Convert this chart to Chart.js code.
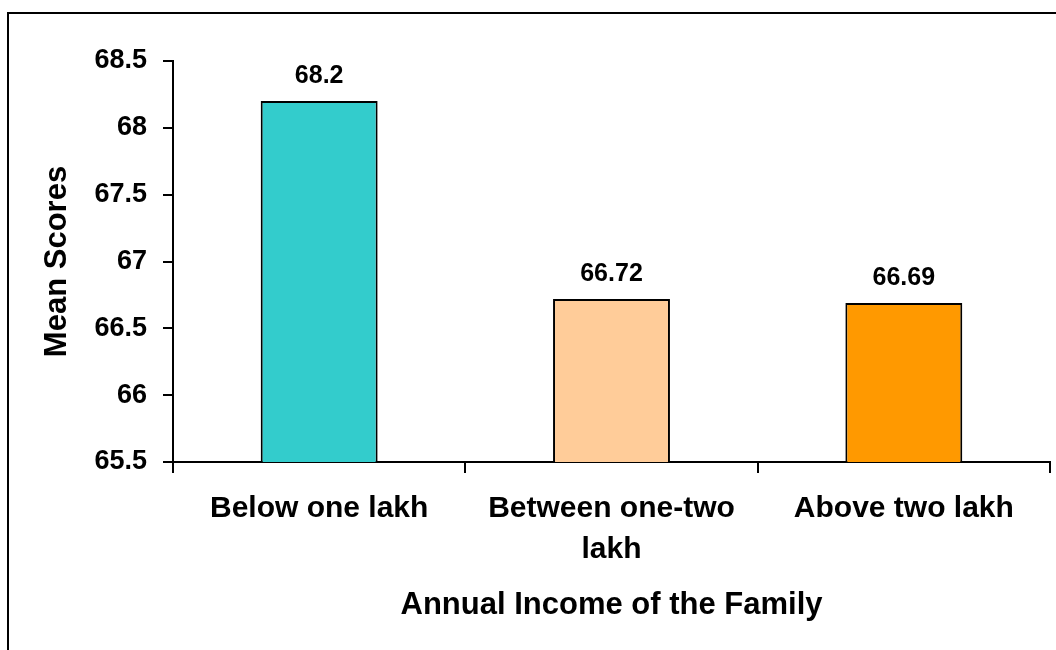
<!DOCTYPE html>
<html>
<head>
    <title>Annual Income of the Family</title>
    <style>
        html, body { margin: 0; padding: 0; background: #fff; overflow: hidden; }
        #frame { position: absolute; left: 7px; top: 12px; width: 1100px; height: 700px; border: 2px solid #000; }
        #chart { position: absolute; left: 0; top: 0; }
    </style>
</head>
<body>
    <div id="frame"></div>
    <canvas id="chart" width="1056" height="650"></canvas>
    <script src="https://cdn.jsdelivr.net/npm/chart.js"></script>
    <script>
        const categories = ['Below one lakh', ['Between one-two', 'lakh'], 'Above two lakh'];
        const meanScores = [68.2, 66.72, 66.69];
        const barColors = ['#33CCCC', '#FFCC99', '#FF9900'];
        const yMin = 65.5, yMax = 68.5, yStep = 0.5;

        const font = 'Liberation Sans, Arial, sans-serif';

        // value above each bar
        const valueLabels = {
            id: 'valueLabels',
            afterDatasetsDraw(chart) {
                const ctx = chart.ctx;
                ctx.save();
                ctx.font = 'bold 25px ' + font;
                ctx.fillStyle = '#000';
                ctx.textAlign = 'center';
                ctx.textBaseline = 'middle';
                chart.getDatasetMeta(0).data.forEach((bar, i) => {
                    ctx.fillText(String(meanScores[i]), bar.x, bar.y - 25);
                });
                ctx.restore();
            }
        };

        new Chart(document.getElementById('chart'), {
            type: 'bar',
            data: {
                labels: categories,
                datasets: [{
                    data: meanScores,
                    backgroundColor: barColors,
                    borderColor: '#000',
                    borderWidth: 2,
                    barPercentage: 0.4,
                    categoryPercentage: 1.0
                }]
            },
            options: {
                responsive: false,
                animation: false,
                layout: { padding: { top: 61, right: 6, left: 0, bottom: 0 } },
                plugins: {
                    legend: { display: false },
                    tooltip: { enabled: false }
                },
                scales: {
                    x: {
                        afterFit(scale) { scale.height = 188; },
                        grid: { drawOnChartArea: false, drawTicks: true, tickLength: 11, color: '#000', lineWidth: 2 },
                        border: { display: true, color: '#000', width: 2 },
                        ticks: {
                            color: '#000',
                            padding: 15,
                            maxRotation: 0,
                            font: { family: font, size: 30, weight: 'bold', lineHeight: 1.37 }
                        },
                        title: {
                            display: true,
                            text: 'Annual Income of the Family',
                            color: '#000',
                            padding: { bottom: 26 },
                            font: { family: font, size: 31, weight: 'bold' }
                        }
                    },
                    y: {
                        min: yMin,
                        max: yMax,
                        afterFit(scale) { scale.width = 173; },
                        grid: { drawOnChartArea: false, drawTicks: true, tickLength: 10, color: '#000', lineWidth: 2 },
                        border: { display: true, color: '#000', width: 2 },
                        ticks: {
                            stepSize: yStep,
                            color: '#000',
                            padding: 16,
                            font: { family: font, size: 27, weight: 'bold' },
                            callback: v => String(v)
                        },
                        title: {
                            display: true,
                            text: 'Mean Scores',
                            color: '#000',
                            padding: { top: 39 },
                            font: { family: font, size: 31, weight: 'bold' }
                        }
                    }
                }
            },
            plugins: [valueLabels]
        });
    </script>
</body>
</html>
